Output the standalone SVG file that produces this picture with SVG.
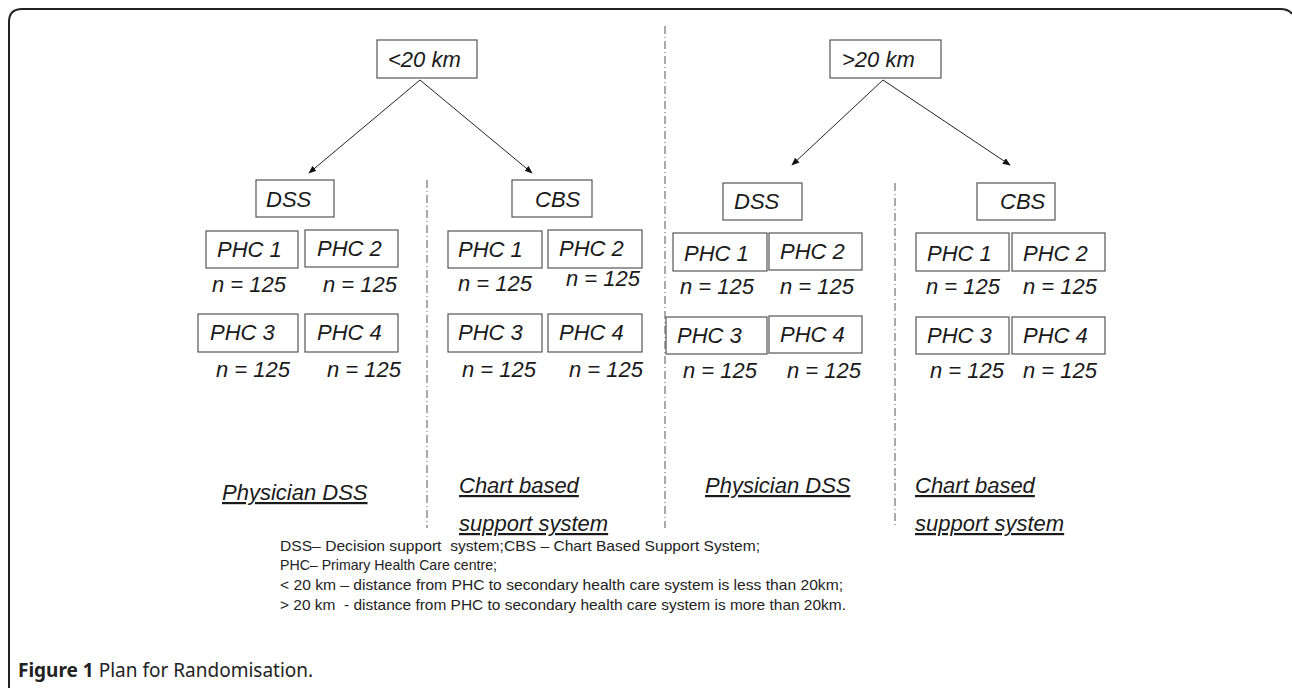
<svg xmlns="http://www.w3.org/2000/svg" width="1292" height="688" viewBox="0 0 1292 688">
<defs>
<marker id="ah" viewBox="0 0 10 10" refX="9" refY="5" markerWidth="8" markerHeight="8" markerUnits="userSpaceOnUse" orient="auto">
<path d="M0,1 L10,5 L0,9 z" fill="#111"/>
</marker>
<style>
.box{fill:#fff;stroke:#555;stroke-width:1.2}
.t{font-family:"Liberation Sans",Arial,sans-serif;font-style:italic;font-size:22px;fill:#1a1a1a}
.lab{font-family:"Liberation Sans",Arial,sans-serif;font-style:italic;font-size:22px;fill:#1a1a1a;text-decoration:underline}
.leg{font-family:"Liberation Sans",Arial,sans-serif;font-size:15px;fill:#222;white-space:pre}
.dash{stroke:#555;stroke-width:1;stroke-dasharray:8 3 1 3;fill:none}
.arr{stroke:#222;stroke-width:1;fill:none;marker-end:url(#ah)}
.cap{font-family:"Noto Sans","Open Sans",sans-serif;font-size:19px;fill:#222}
</style>
</defs>
<rect width="1292" height="688" fill="#fff"/>
<path d="M9,688 V22 Q9,9 22,9 H1280 Q1289,9 1292,14" fill="none" stroke="#222" stroke-width="2"/>

<g id="connectors">
<line class="arr" x1="420" y1="80" x2="309" y2="173"/>
<line class="arr" x1="420" y1="80" x2="532" y2="173"/>
<line class="arr" x1="883" y1="80" x2="792" y2="165"/>
<line class="arr" x1="883" y1="80" x2="1010" y2="165"/>
<line class="dash" x1="427" y1="180" x2="427" y2="528"/>
<line class="dash" x1="665" y1="26" x2="665" y2="528"/>
<line class="dash" x1="895" y1="183" x2="895" y2="528"/>
</g>

<g id="lt20"><rect class="box" x="377" y="40" width="100" height="38"/><text class="t" x="388" y="67">&lt;20 km</text></g>
<g id="gt20"><rect class="box" x="830" y="40" width="111" height="38"/><text class="t" x="842" y="67">&gt;20 km</text></g>

<g id="dss1"><rect class="box" x="256" y="180" width="78" height="37"/><text class="t" x="266" y="207">DSS</text></g>
<g id="cbs1"><rect class="box" x="512" y="180" width="80" height="37"/><text class="t" x="535" y="207">CBS</text></g>
<g id="dss2"><rect class="box" x="723" y="183" width="79" height="37"/><text class="t" x="734" y="209">DSS</text></g>
<g id="cbs2"><rect class="box" x="977" y="183" width="78" height="37"/><text class="t" x="1000" y="209">CBS</text></g>

<g id="dss1-phc1"><rect class="box" x="206" y="231" width="92" height="37"/><text class="t" x="217" y="257">PHC 1</text><text class="t" x="212" y="292">n = 125</text></g>
<g id="dss1-phc2"><rect class="box" x="305" y="230" width="93" height="37"/><text class="t" x="317" y="256">PHC 2</text><text class="t" x="323" y="292">n = 125</text></g>
<g id="dss1-phc3"><rect class="box" x="198" y="314" width="100" height="38"/><text class="t" x="210" y="340">PHC 3</text><text class="t" x="216" y="377">n = 125</text></g>
<g id="dss1-phc4"><rect class="box" x="305" y="314" width="93" height="38"/><text class="t" x="317" y="340">PHC 4</text><text class="t" x="327" y="377">n = 125</text></g>

<g id="cbs1-phc1"><rect class="box" x="448" y="231" width="94" height="37"/><text class="t" x="458" y="257">PHC 1</text><text class="t" x="458" y="291">n = 125</text></g>
<g id="cbs1-phc2"><rect class="box" x="548" y="230" width="94" height="38"/><text class="t" x="559" y="256">PHC 2</text><text class="t" x="566" y="286">n = 125</text></g>
<g id="cbs1-phc3"><rect class="box" x="448" y="314" width="94" height="38"/><text class="t" x="458" y="340">PHC 3</text><text class="t" x="462" y="377">n = 125</text></g>
<g id="cbs1-phc4"><rect class="box" x="548" y="314" width="94" height="38"/><text class="t" x="559" y="340">PHC 4</text><text class="t" x="569" y="377">n = 125</text></g>

<g id="dss2-phc1"><rect class="box" x="673" y="233" width="94" height="38"/><text class="t" x="684" y="261">PHC 1</text><text class="t" x="680" y="294">n = 125</text></g>
<g id="dss2-phc2"><rect class="box" x="769" y="233" width="93" height="37"/><text class="t" x="780" y="259">PHC 2</text><text class="t" x="780" y="294">n = 125</text></g>
<g id="dss2-phc3"><rect class="box" x="666" y="317" width="101" height="37"/><text class="t" x="677" y="343">PHC 3</text><text class="t" x="683" y="378">n = 125</text></g>
<g id="dss2-phc4"><rect class="box" x="769" y="316" width="93" height="37"/><text class="t" x="780" y="342">PHC 4</text><text class="t" x="787" y="378">n = 125</text></g>

<g id="cbs2-phc1"><rect class="box" x="916" y="233" width="93" height="38"/><text class="t" x="927" y="261">PHC 1</text><text class="t" x="926" y="294">n = 125</text></g>
<g id="cbs2-phc2"><rect class="box" x="1012" y="233" width="93" height="38"/><text class="t" x="1023" y="261">PHC 2</text><text class="t" x="1023" y="294">n = 125</text></g>
<g id="cbs2-phc3"><rect class="box" x="916" y="317" width="93" height="37"/><text class="t" x="927" y="343">PHC 3</text><text class="t" x="930" y="378">n = 125</text></g>
<g id="cbs2-phc4"><rect class="box" x="1012" y="317" width="93" height="37"/><text class="t" x="1023" y="343">PHC 4</text><text class="t" x="1023" y="378">n = 125</text></g>

<g id="labels">
<text class="lab" x="222" y="500">Physician DSS</text>
<text class="lab" x="459" y="493">Chart based</text>
<text class="lab" x="459" y="531">support system</text>
<text class="lab" x="705" y="493">Physician DSS</text>
<text class="lab" x="915" y="493">Chart based</text>
<text class="lab" x="915" y="531">support system</text>
</g>

<g id="legend">
<text class="leg" x="280" y="551" textLength="480" lengthAdjust="spacingAndGlyphs">DSS– Decision support  system;CBS – Chart Based Support System;</text>
<text class="leg" x="280" y="570" textLength="217" lengthAdjust="spacingAndGlyphs">PHC– Primary Health Care centre;</text>
<text class="leg" x="280" y="590" textLength="563" lengthAdjust="spacingAndGlyphs">&lt; 20 km – distance from PHC to secondary health care system is less than 20km;</text>
<text class="leg" x="280" y="610" textLength="566" lengthAdjust="spacingAndGlyphs">&gt; 20 km  - distance from PHC to secondary health care system is more than 20km.</text>
</g>

<text class="cap" x="18" y="677"><tspan font-weight="bold">Figure 1</tspan> Plan for Randomisation.</text>
</svg>
